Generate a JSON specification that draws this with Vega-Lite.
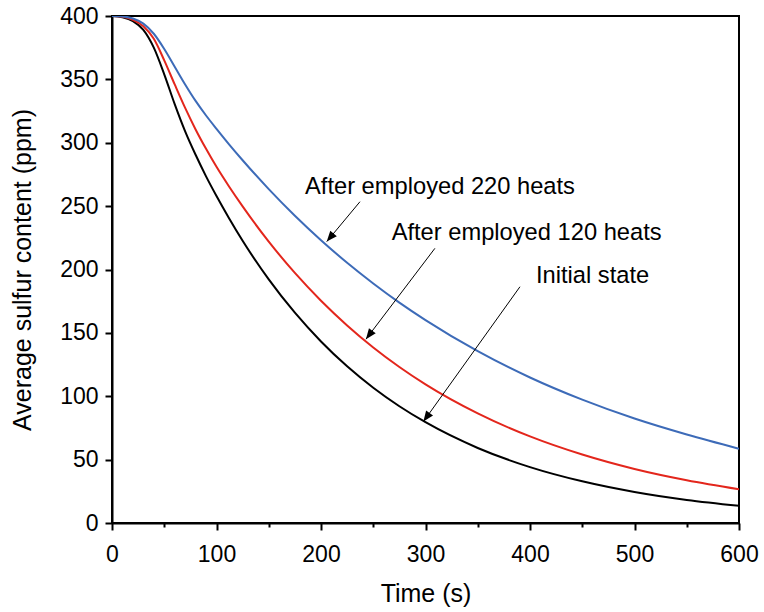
{
  "$schema": "https://vega.github.io/schema/vega-lite/v6.json",
  "width": 627,
  "height": 507,
  "autosize": {"type": "none"},
  "padding": {"left": 112, "top": 16, "right": 25, "bottom": 89},
  "background": "white",
  "config": {
    "view": {"stroke": "black", "strokeWidth": 2},
    "font": "Liberation Sans"
  },
  "datasets": {
    "curves": [
      {"t": 0, "v": 400, "series": "Initial state"},
      {"t": 10, "v": 399, "series": "Initial state"},
      {"t": 20, "v": 396, "series": "Initial state"},
      {"t": 30, "v": 389, "series": "Initial state"},
      {"t": 40, "v": 375, "series": "Initial state"},
      {"t": 50, "v": 354, "series": "Initial state"},
      {"t": 60, "v": 330.5, "series": "Initial state"},
      {"t": 70, "v": 309, "series": "Initial state"},
      {"t": 80, "v": 290.5, "series": "Initial state"},
      {"t": 90, "v": 273.5, "series": "Initial state"},
      {"t": 100, "v": 258, "series": "Initial state"},
      {"t": 112, "v": 240.5, "series": "Initial state"},
      {"t": 125, "v": 222.7, "series": "Initial state"},
      {"t": 150, "v": 192.2, "series": "Initial state"},
      {"t": 175, "v": 165.9, "series": "Initial state"},
      {"t": 200, "v": 143.2, "series": "Initial state"},
      {"t": 225, "v": 123.6, "series": "Initial state"},
      {"t": 250, "v": 106.7, "series": "Initial state"},
      {"t": 275, "v": 92.1, "series": "Initial state"},
      {"t": 300, "v": 79.5, "series": "Initial state"},
      {"t": 350, "v": 59.2, "series": "Initial state"},
      {"t": 400, "v": 44.1, "series": "Initial state"},
      {"t": 450, "v": 32.9, "series": "Initial state"},
      {"t": 500, "v": 24.5, "series": "Initial state"},
      {"t": 550, "v": 18.2, "series": "Initial state"},
      {"t": 600, "v": 13.6, "series": "Initial state"},
      {"t": 0, "v": 400, "series": "120 heats"},
      {"t": 10, "v": 399.5, "series": "120 heats"},
      {"t": 20, "v": 397, "series": "120 heats"},
      {"t": 30, "v": 392, "series": "120 heats"},
      {"t": 40, "v": 382, "series": "120 heats"},
      {"t": 50, "v": 365, "series": "120 heats"},
      {"t": 60, "v": 346, "series": "120 heats"},
      {"t": 70, "v": 327.5, "series": "120 heats"},
      {"t": 80, "v": 310.5, "series": "120 heats"},
      {"t": 90, "v": 295.2, "series": "120 heats"},
      {"t": 100, "v": 281, "series": "120 heats"},
      {"t": 112, "v": 265.5, "series": "120 heats"},
      {"t": 125, "v": 249.8, "series": "120 heats"},
      {"t": 150, "v": 222, "series": "120 heats"},
      {"t": 175, "v": 197.3, "series": "120 heats"},
      {"t": 200, "v": 175.4, "series": "120 heats"},
      {"t": 225, "v": 155.9, "series": "120 heats"},
      {"t": 250, "v": 138.5, "series": "120 heats"},
      {"t": 275, "v": 123.1, "series": "120 heats"},
      {"t": 300, "v": 109.4, "series": "120 heats"},
      {"t": 350, "v": 86.5, "series": "120 heats"},
      {"t": 400, "v": 68.3, "series": "120 heats"},
      {"t": 450, "v": 54, "series": "120 heats"},
      {"t": 500, "v": 42.6, "series": "120 heats"},
      {"t": 550, "v": 33.7, "series": "120 heats"},
      {"t": 600, "v": 26.6, "series": "120 heats"},
      {"t": 0, "v": 400, "series": "220 heats"},
      {"t": 10, "v": 399.7, "series": "220 heats"},
      {"t": 20, "v": 398, "series": "220 heats"},
      {"t": 30, "v": 394, "series": "220 heats"},
      {"t": 40, "v": 386, "series": "220 heats"},
      {"t": 50, "v": 374, "series": "220 heats"},
      {"t": 60, "v": 360, "series": "220 heats"},
      {"t": 70, "v": 346, "series": "220 heats"},
      {"t": 80, "v": 333, "series": "220 heats"},
      {"t": 90, "v": 321.5, "series": "220 heats"},
      {"t": 100, "v": 311, "series": "220 heats"},
      {"t": 112, "v": 298.8, "series": "220 heats"},
      {"t": 125, "v": 286.2, "series": "220 heats"},
      {"t": 150, "v": 263.4, "series": "220 heats"},
      {"t": 175, "v": 242.4, "series": "220 heats"},
      {"t": 200, "v": 223.1, "series": "220 heats"},
      {"t": 225, "v": 205.3, "series": "220 heats"},
      {"t": 250, "v": 189, "series": "220 heats"},
      {"t": 275, "v": 173.9, "series": "220 heats"},
      {"t": 300, "v": 160.1, "series": "220 heats"},
      {"t": 350, "v": 135.6, "series": "220 heats"},
      {"t": 400, "v": 114.8, "series": "220 heats"},
      {"t": 450, "v": 97.3, "series": "220 heats"},
      {"t": 500, "v": 82.4, "series": "220 heats"},
      {"t": 550, "v": 69.8, "series": "220 heats"},
      {"t": 600, "v": 58.6, "series": "220 heats"}
    ],
    "notes": [
      {"key": "220", "label": "After employed 220 heats", "tx": 184.7, "ty": 259.6, "x1": 237.3, "y1": 253.5, "x2": 205.5, "y2": 222},
      {"key": "120", "label": "After employed 120 heats", "tx": 267.6, "ty": 223.3, "x1": 309, "y1": 216.7, "x2": 243, "y2": 145},
      {"key": "init", "label": "Initial state", "tx": 405.7, "ty": 189.1, "x1": 390.4, "y1": 186.4, "x2": 298, "y2": 80}
    ]
  },
  "layer": [
    {
      "data": {"name": "curves"},
      "mark": {"type": "line", "strokeWidth": 2, "interpolate": "monotone", "clip": true},
      "encoding": {
        "x": {
          "field": "t", "type": "quantitative",
          "scale": {"domain": [0, 600], "nice": false},
          "axis": {
            "title": "Time (s)",
            "values": [0, 50, 100, 150, 200, 250, 300, 350, 400, 450, 500, 550, 600],
            "labelExpr": "datum.value % 100 === 0 ? datum.label : ''",
            "tickSize": {"condition": {"test": "datum.value % 100 === 0", "value": 7}, "value": 4},
            "tickWidth": 2, "tickColor": "black",
            "domainColor": "black", "domainWidth": 2,
            "labelFontSize": 23, "labelColor": "black", "labelPadding": 13,
            "labelFont": "Liberation Sans", "labelFlush": false, "labelOverlap": false,
            "titleFont": "Liberation Sans", "titleFontSize": 25, "titleFontWeight": "normal",
            "titleColor": "black", "titlePadding": 15, "grid": false
          }
        },
        "y": {
          "field": "v", "type": "quantitative",
          "scale": {"domain": [0, 400], "nice": false},
          "axis": {
            "title": "Average sulfur content (ppm)",
            "values": [0, 25, 50, 75, 100, 125, 150, 175, 200, 225, 250, 275, 300, 325, 350, 375, 400],
            "labelExpr": "datum.value % 50 === 0 ? datum.label : ''",
            "tickSize": {"condition": {"test": "datum.value % 50 === 0", "value": 7}, "value": 4},
            "tickWidth": 2, "tickColor": "black",
            "domainColor": "black", "domainWidth": 2,
            "labelFontSize": 23, "labelColor": "black", "labelPadding": 7,
            "labelFont": "Liberation Sans", "labelFlush": false, "labelOverlap": false,
            "titleFont": "Liberation Sans", "titleFontSize": 25, "titleFontWeight": "normal",
            "titleColor": "black", "titlePadding": 24, "grid": false
          }
        },
        "color": {
          "field": "series", "type": "nominal",
          "scale": {"domain": ["Initial state", "120 heats", "220 heats"], "range": ["#000000", "#e3261c", "#3d6bb8"]},
          "legend": null
        },
        "detail": {"field": "series"}
      }
    },
    {
      "data": {"name": "notes"},
      "mark": {"type": "rule", "color": "black", "strokeWidth": 1},
      "encoding": {
        "x": {"field": "x1", "type": "quantitative"},
        "y": {"field": "y1", "type": "quantitative"},
        "x2": {"field": "x2"},
        "y2": {"field": "y2"}
      }
    },
    {
      "data": {"name": "notes"},
      "mark": {"type": "text", "align": "left", "baseline": "alphabetic", "fontSize": 23.7, "font": "Liberation Sans", "color": "black"},
      "encoding": {
        "x": {"field": "tx", "type": "quantitative"},
        "y": {"field": "ty", "type": "quantitative"},
        "text": {"field": "label"}
      }
    },
    {
      "data": {"name": "notes"},
      "transform": [{"filter": "datum.key === '220'"}],
      "mark": {"type": "point", "shape": "M0,0 L-0.4,1 L0.4,1 Z", "filled": true, "color": "black", "opacity": 1, "size": 450, "angle": 219.8},
      "encoding": {
        "x": {"field": "x2", "type": "quantitative"},
        "y": {"field": "y2", "type": "quantitative"}
      }
    },
    {
      "data": {"name": "notes"},
      "transform": [{"filter": "datum.key === '120'"}],
      "mark": {"type": "point", "shape": "M0,0 L-0.4,1 L0.4,1 Z", "filled": true, "color": "black", "opacity": 1, "size": 450, "angle": 217.2},
      "encoding": {
        "x": {"field": "x2", "type": "quantitative"},
        "y": {"field": "y2", "type": "quantitative"}
      }
    },
    {
      "data": {"name": "notes"},
      "transform": [{"filter": "datum.key === 'init'"}],
      "mark": {"type": "point", "shape": "M0,0 L-0.4,1 L0.4,1 Z", "filled": true, "color": "black", "opacity": 1, "size": 450, "angle": 215.6},
      "encoding": {
        "x": {"field": "x2", "type": "quantitative"},
        "y": {"field": "y2", "type": "quantitative"}
      }
    }
  ]
}
